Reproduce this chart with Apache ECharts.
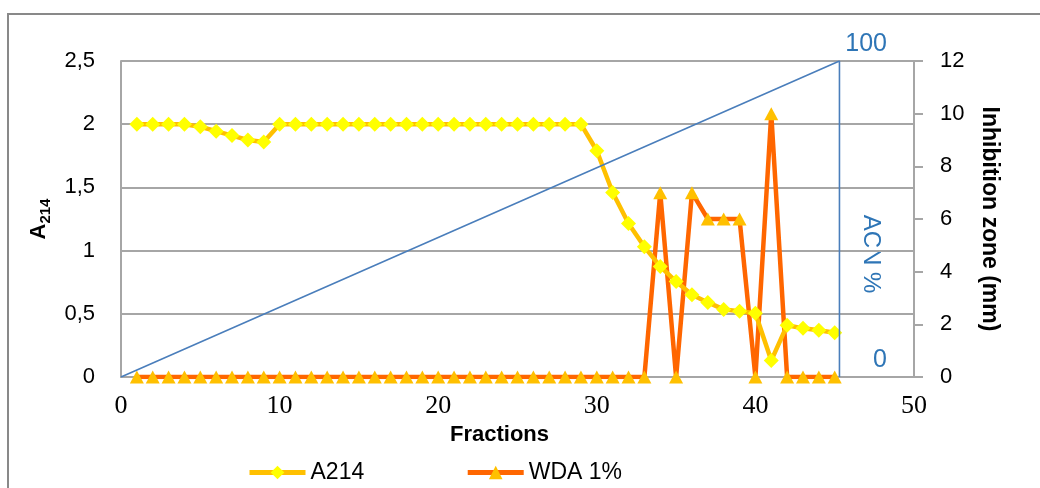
<!DOCTYPE html>
<html>
<head>
<meta charset="utf-8">
<script src="https://cdn.jsdelivr.net/npm/echarts@6/dist/echarts.min.js"></script>
<style>
  html, body { margin: 0; padding: 0; background: #fff; }
  #chart { width: 1040px; height: 488px; }
</style>
</head>
<body>
<div id="chart"></div>
<script>
// Fraction numbers collected from the column
const fractions = [1, 2, 3, 4, 5, 6, 7, 8, 9, 10, 11, 12, 13, 14, 15, 16, 17, 18, 19, 20,
  21, 22, 23, 24, 25, 26, 27, 28, 29, 30, 31, 32, 33, 34, 35, 36, 37, 38, 39, 40,
  41, 42, 43, 44, 45];

// Absorbance at 214 nm for each fraction
const a214 = [2.0, 2.0, 2.0, 2.0, 1.98, 1.945, 1.91, 1.875, 1.86, 2.0,
  2.0, 2.0, 2.0, 2.0, 2.0, 2.0, 2.0, 2.0, 2.0, 2.0,
  2.0, 2.0, 2.0, 2.0, 2.0, 2.0, 2.0, 2.0, 2.0, 1.79,
  1.46, 1.215, 1.03, 0.875, 0.755, 0.65, 0.59, 0.535, 0.52, 0.505,
  0.13, 0.41, 0.385, 0.37, 0.35];

// Inhibition zone (mm) in the well diffusion assay, 1%
const wda = [0, 0, 0, 0, 0, 0, 0, 0, 0, 0,
  0, 0, 0, 0, 0, 0, 0, 0, 0, 0,
  0, 0, 0, 0, 0, 0, 0, 0, 0, 0,
  0, 0, 0, 7, 0, 7, 6, 6, 6, 0,
  10, 0, 0, 0, 0];

// Acetonitrile gradient: linear ramp, then back to 0
const acnFraction = [0, 45.3, 45.3];
const acnPercent = [0, 100, 0];

const leftTicks = { min: 0, max: 2.5, interval: 0.5 };
const rightTicks = { min: 0, max: 12, interval: 2 };
const xTicks = { min: 0, max: 50, interval: 10 };

const SANS = '"Liberation Sans", Arial, sans-serif';
const SERIF = '"Liberation Serif", "Times New Roman", serif';
const GRID_GREY = '#a6a6a6';
const ACN_BLUE = '#2E75B6';

const chart = echarts.init(document.getElementById('chart'), null, { renderer: 'canvas' });

const option = {
  animation: false,
  backgroundColor: '#ffffff',
  grid: { left: 121, right: 126, top: 61, bottom: 111, containLabel: false },
  legend: {
    left: 247,
    top: 461,
    padding: 0,
    itemWidth: 56,
    itemHeight: 17,
    itemGap: 101,
    lineStyle: { width: 5 },
    textStyle: { fontFamily: SANS, fontSize: 23, color: '#000' },
    data: ['A214', 'WDA 1%']
  },
  xAxis: {
    type: 'value',
    min: xTicks.min, max: xTicks.max, interval: xTicks.interval,
    name: 'Fractions',
    nameLocation: 'middle',
    nameGap: 40,
    nameTextStyle: { fontFamily: SANS, fontSize: 22, fontWeight: 'bold', color: '#000', padding: [0, 36, 0, 0] },
    axisLine: { show: true, onZero: false, lineStyle: { color: GRID_GREY, width: 2 } },
    axisTick: { show: false },
    splitLine: { show: false },
    axisLabel: { fontFamily: SERIF, fontSize: 26, color: '#000', margin: 16 }
  },
  yAxis: [
    {
      type: 'value',
      position: 'left',
      min: leftTicks.min, max: leftTicks.max, interval: leftTicks.interval,
      name: '{a|A}{s|214}',
      nameLocation: 'middle',
      nameRotate: 90,
      nameGap: 66,
      nameTextStyle: {
        rich: {
          a: { fontFamily: SANS, fontSize: 22, fontWeight: 'bold', color: '#000', lineHeight: 26, verticalAlign: 'top' },
          s: { fontFamily: SANS, fontSize: 15, fontWeight: 'bold', color: '#000', lineHeight: 18, padding: [12, 0, 0, 0], verticalAlign: 'bottom' }
        }
      },
      axisLine: { show: true, lineStyle: { color: GRID_GREY, width: 2 } },
      axisTick: { show: false },
      splitLine: { show: true, lineStyle: { color: GRID_GREY, width: 2 } },
      axisLabel: {
        fontFamily: SANS, fontSize: 22, color: '#000', margin: 26,
        formatter: v => String(v).replace('.', ',')
      }
    },
    {
      type: 'value',
      position: 'right',
      min: rightTicks.min, max: rightTicks.max, interval: rightTicks.interval,
      name: 'Inhibition zone (mm)',
      nameLocation: 'middle',
      nameRotate: -90,
      nameGap: 64,
      nameTextStyle: { fontFamily: SANS, fontSize: 23, fontWeight: 'bold', color: '#000' },
      axisLine: { show: true, lineStyle: { color: GRID_GREY, width: 2 } },
      axisTick: { show: true, inside: false, length: 9, lineStyle: { color: GRID_GREY, width: 2 } },
      splitLine: { show: false },
      axisLabel: { fontFamily: SANS, fontSize: 22, color: '#000', margin: 26 }
    },
    {
      // ACN % scale, drawn inside the plot next to the gradient's end
      type: 'value',
      position: 'right',
      offset: -75,
      min: 0, max: 100, interval: 100,
      axisLine: { show: false },
      axisTick: { show: false },
      splitLine: { show: false },
      axisLabel: {
        fontFamily: SANS, fontSize: 25, color: ACN_BLUE,
        align: 'right', verticalAlign: 'bottom', margin: 48,
        padding: [0, 0, 4, 0]
      }
    }
  ],
  series: [
    {
      name: 'WDA 1%',
      type: 'line',
      yAxisIndex: 1,
      data: fractions.map((f, i) => [f, wda[i]]),
      symbol: 'triangle',
      symbolSize: [14, 13],
      showAllSymbol: true,
      lineStyle: { color: '#FF6600', width: 4.5 },
      itemStyle: { color: '#FFC000', borderWidth: 0 },
      z: 2
    },
    {
      name: 'A214',
      type: 'line',
      yAxisIndex: 0,
      data: fractions.map((f, i) => [f, a214[i]]),
      symbol: 'diamond',
      symbolSize: [15, 15],
      showAllSymbol: true,
      lineStyle: { color: '#FFC000', width: 4.5 },
      itemStyle: { color: '#FFFF00', borderWidth: 0 },
      z: 3
    },
    {
      name: 'ACN %',
      type: 'line',
      yAxisIndex: 2,
      data: acnFraction.map((f, i) => [f, acnPercent[i]]),
      symbol: 'none',
      lineStyle: { color: '#4A7EBB', width: 1.6 },
      z: 4
    }
  ],
  graphic: [
    {
      type: 'rect',
      silent: true,
      shape: { x: 8, y: 14, width: 1100, height: 600 },
      style: { fill: 'none', stroke: '#898989', lineWidth: 2 },
      z: 0
    },
    {
      type: 'text',
      silent: true,
      x: 871,
      y: 254,
      rotation: -Math.PI / 2,
      style: {
        text: 'ACN %',
        fontFamily: SANS,
        fontSize: 24,
        fill: ACN_BLUE,
        align: 'center',
        verticalAlign: 'middle'
      }
    }
  ]
};

chart.setOption(option);
</script>
</body>
</html>
